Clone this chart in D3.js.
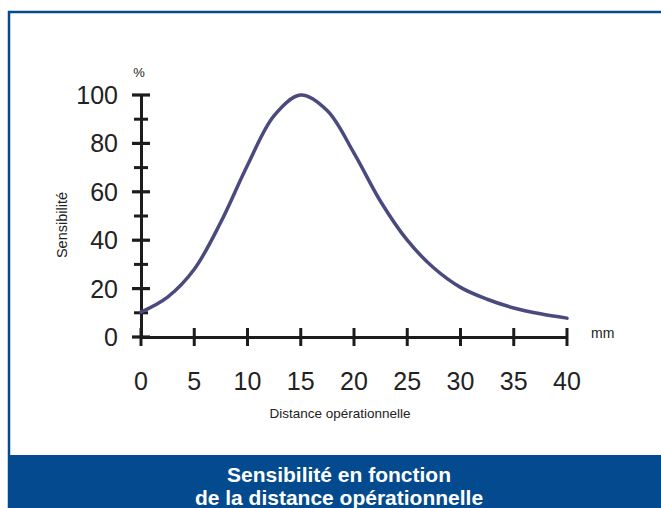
<!DOCTYPE html>
<html><head><meta charset="utf-8">
<script src="https://cdn.jsdelivr.net/npm/d3@7"></script>
<style>body{margin:0;background:#fff;}svg{display:block;font-family:"Liberation Sans",Arial,sans-serif;}</style>
</head><body>
<svg id="c" width="661" height="508"></svg>
<script>
const distances = [0,2.5,5,7.5,10,12.5,15,17.5,20,22.5,25,27.5,30,32.5,35,37.5,40];
const sensitivity = [10.3,16.5,28,47.5,71,91.5,100,93.5,76,56,40,28.5,20.5,15.6,12,9.6,7.8];
const xTicks = [0,5,10,15,20,25,30,35,40];
const yMajorTicks = [0,20,40,60,80,100];
const yMinorTicks = [10,30,50,70,90];
const titleLines = ["Sensibilité en fonction","de la distance opérationnelle"];

const svg = d3.select("#c");
const blue = "#034b8e";
// frame
svg.append("path").attr("d","M9,508 V12 H661").attr("fill","none").attr("stroke",blue).attr("stroke-width",2.5);
svg.append("rect").attr("x",8).attr("y",455).attr("width",653).attr("height",53).attr("fill",blue);
svg.selectAll("text.title").data(titleLines).enter().append("text")
  .attr("x",339).attr("y",(d,i)=>482+i*23).attr("text-anchor","middle")
  .attr("fill","#fff").attr("font-weight","bold").attr("font-size",21).text(d=>d);

const x = d3.scaleLinear().domain([0,40]).range([141,567]);
const y = d3.scaleLinear().domain([0,100]).range([337,95]);
const axisColor = "#1c1c1c";

// x axis
const gx = svg.append("g").attr("transform","translate(0,337)");
gx.call(d3.axisBottom(x).tickValues(xTicks).tickSize(0).tickPadding(0).tickFormat(""));
gx.select(".domain").attr("stroke",axisColor).attr("stroke-width",3);
gx.selectAll(".xt").data(xTicks).enter().append("line").attr("class","xt")
  .attr("x1",d=>x(d)).attr("x2",d=>x(d)).attr("y1",-9).attr("y2",9)
  .attr("stroke",axisColor).attr("stroke-width",3);
gx.selectAll(".xl").data(xTicks).enter().append("text").attr("class","xl")
  .attr("x",d=>x(d)).attr("y",53).attr("text-anchor","middle").attr("font-size",25).attr("fill","#222").text(d=>d);

// y axis
const gy = svg.append("g").attr("transform","translate(141,0)");
gy.call(d3.axisLeft(y).tickValues(yMajorTicks).tickSize(0).tickFormat(""));
gy.select(".domain").attr("stroke",axisColor).attr("stroke-width",3);
gy.selectAll(".yt").data(yMajorTicks).enter().append("line").attr("class","yt")
  .attr("x1",-9).attr("x2",9).attr("y1",d=>y(d)).attr("y2",d=>y(d))
  .attr("stroke",axisColor).attr("stroke-width",3.2);
gy.selectAll(".ym").data(yMinorTicks).enter().append("line").attr("class","ym")
  .attr("x1",-7).attr("x2",7).attr("y1",d=>y(d)).attr("y2",d=>y(d))
  .attr("stroke",axisColor).attr("stroke-width",3);
gy.selectAll(".yl").data(yMajorTicks).enter().append("text").attr("class","yl")
  .attr("x",-23).attr("y",d=>y(d)+9).attr("text-anchor","end").attr("font-size",25).attr("fill","#222").text(d=>d);

// curve
svg.append("path").datum(distances.map((d,i)=>[d,sensitivity[i]]))
  .attr("fill","none").attr("stroke","#4a4a7e").attr("stroke-width",3.5).attr("stroke-linecap","round")
  .attr("d", d3.line().x(d=>x(d[0])).y(d=>y(d[1])).curve(d3.curveCatmullRom.alpha(0.5)));

// labels
svg.append("text").attr("x",139).attr("y",77).attr("text-anchor","middle").attr("font-size",13).attr("fill","#222").text("%");
svg.append("text").attr("x",591).attr("y",338).attr("font-size",14).attr("fill","#222").text("mm");
svg.append("text").attr("x",340).attr("y",418).attr("text-anchor","middle").attr("font-size",13.5).attr("fill","#222").text("Distance opérationnelle");
svg.append("text").attr("transform","translate(67,225) rotate(-90)").attr("text-anchor","middle").attr("font-size",14.5).attr("fill","#222").text("Sensibilité");
</script>
</body></html>
